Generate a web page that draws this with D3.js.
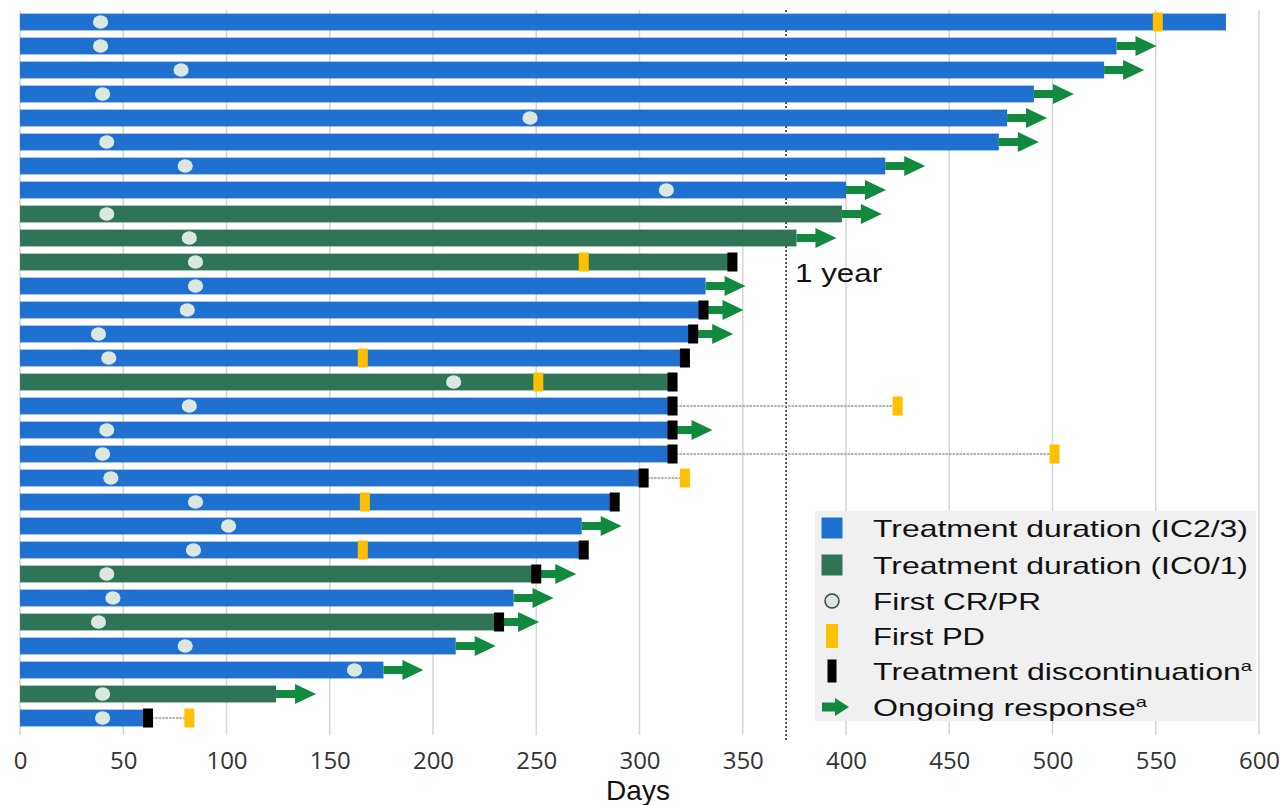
<!DOCTYPE html>
<html>
<head>
<meta charset="utf-8">
<script src="https://cdn.jsdelivr.net/npm/d3@7"></script>
<style>
  body { margin: 0; background: #ffffff; }
  svg { display: block; }
</style>
</head>
<body>
<svg id="chart" width="1283" height="805"></svg>
<script>
// ---- data: one entry per patient, top row first ----
const patients = d3.range(1, 31);
const cohort = [
  "IC2/3", "IC2/3", "IC2/3", "IC2/3", "IC2/3", "IC2/3", "IC2/3", "IC2/3", "IC0/1", "IC0/1",
  "IC0/1", "IC2/3", "IC2/3", "IC2/3", "IC2/3", "IC0/1", "IC2/3", "IC2/3", "IC2/3", "IC2/3",
  "IC2/3", "IC2/3", "IC2/3", "IC0/1", "IC2/3", "IC0/1", "IC2/3", "IC2/3", "IC0/1", "IC2/3"
];
const treatmentDays = [
  584, 531, 525, 491, 478, 474, 419, 400, 398, 376,
  345, 332, 331, 326, 322, 316, 316, 316, 316, 302,
  288, 272, 273, 250, 239, 232, 211, 176, 124, 62
];
const firstResponseDay = [
  39, 39, 78, 40, 247, 42, 80, 313, 42, 82,
  85, 85, 81, 38, 43, 210, 82, 42, 40, 44,
  85, 101, 84, 42, 45, 38, 80, 162, 40, 40
];
const firstPDDay = [
  551, null, null, null, null, null, null, null, null, null,
  273, null, null, null, 166, 251, 425, null, 501, 322,
  167, null, 166, null, null, null, null, null, null, 82
];
const discontinued = [
  false, false, false, false, false, false, false, false, false, false,
  true, false, true, true, true, true, true, true, true, true,
  true, false, true, true, false, true, false, false, false, true
];
const ongoingResponse = [
  false, true, true, true, true, true, true, true, true, true,
  false, true, true, true, false, false, false, true, false, false,
  false, true, false, true, true, true, true, true, true, false
];
const xTicks = d3.range(0, 601, 50);
const oneYearDay = 371;
const legendLabels = [
  "Treatment duration (IC2/3)",
  "Treatment duration (IC0/1)",
  "First CR/PR",
  "First PD",
  "Treatment discontinuation",
  "Ongoing response"
];

// ---- styling ----
const COLORS = {
  "IC2/3": "#1f70cf",
  "IC0/1": "#2f7456",
  response: "#dbe8e1",
  pd: "#ffc000",
  disc: "#000000",
  arrow: "#118a3e",
  grid: "#d6d6d6"
};

const rows = patients.map((p, i) => ({
  id: p,
  cohort: cohort[i],
  end: treatmentDays[i],
  cr: firstResponseDay[i],
  pd: firstPDDay[i],
  disc: discontinued[i],
  ongoing: ongoingResponse[i]
}));

const svg = d3.select("#chart");
const plotTop = 10, plotBottom = 730;

const x = d3.scaleLinear().domain([0, 600]).range([20, 1259]);
const y = d3.scaleBand()
  .domain(patients)
  .range([plotTop, plotBottom])
  .paddingInner(0.3)
  .paddingOuter(0.15);
const bw = y.bandwidth();
const cy = d => y(d.id) + bw / 2;

// vertical gridlines
svg.append("g").selectAll("line")
  .data(xTicks)
  .join("line")
  .attr("x1", d => x(d)).attr("x2", d => x(d))
  .attr("y1", plotTop).attr("y2", plotBottom + 5)
  .attr("stroke", COLORS.grid)
  .attr("stroke-width", 1.5);

// one-year reference line (sits behind the bars)
svg.append("line")
  .attr("x1", x(oneYearDay)).attr("x2", x(oneYearDay))
  .attr("y1", plotTop).attr("y2", plotBottom + 10)
  .attr("stroke", "#333")
  .attr("stroke-width", 1.6)
  .attr("stroke-dasharray", "2,2");

svg.append("text")
  .attr("x", x(oneYearDay) + 9)
  .attr("y", 282)
  .attr("font-family", "'Liberation Sans', Arial, sans-serif")
  .attr("font-size", 26)
  .attr("fill", "#111")
  .attr("textLength", 87)
  .attr("lengthAdjust", "spacingAndGlyphs")
  .text("1 year");

// treatment bars
svg.append("g").selectAll("rect")
  .data(rows)
  .join("rect")
  .attr("x", x(0))
  .attr("y", d => y(d.id))
  .attr("width", d => x(d.end) - x(0))
  .attr("height", bw)
  .attr("fill", d => COLORS[d.cohort]);

// follow-up connector from discontinuation to later progression
svg.append("g").selectAll("line")
  .data(rows.filter(d => d.pd != null && d.pd > d.end))
  .join("line")
  .attr("x1", d => x(d.end)).attr("x2", d => x(d.pd))
  .attr("y1", cy).attr("y2", cy)
  .attr("stroke", "#999")
  .attr("stroke-width", 1.3)
  .attr("stroke-dasharray", "2.5,1");

// ongoing response arrows
const arrowPath = (x0, yc, shaftLen, headEnd, sh, hh) =>
  `M${x0},${yc - sh}L${x0 + shaftLen},${yc - sh}L${x0 + shaftLen},${yc - hh}` +
  `L${x0 + headEnd},${yc}L${x0 + shaftLen},${yc + hh}L${x0 + shaftLen},${yc + sh}L${x0},${yc + sh}Z`;

svg.append("g").selectAll("path")
  .data(rows.filter(d => d.ongoing))
  .join("path")
  .attr("d", d => arrowPath(x(d.end), cy(d), 19, 40, 4, 10))
  .attr("fill", COLORS.arrow);

// first CR/PR
svg.append("g").selectAll("ellipse")
  .data(rows)
  .join("ellipse")
  .attr("cx", d => x(d.cr))
  .attr("cy", cy)
  .attr("rx", 7.6).attr("ry", 6.8)
  .attr("fill", COLORS.response);

// first PD
svg.append("g").selectAll("rect")
  .data(rows.filter(d => d.pd != null))
  .join("rect")
  .attr("x", d => x(d.pd) - 5)
  .attr("y", d => cy(d) - 9.5)
  .attr("width", 10)
  .attr("height", 19)
  .attr("fill", COLORS.pd);

// treatment discontinuation
svg.append("g").selectAll("rect")
  .data(rows.filter(d => d.disc))
  .join("rect")
  .attr("x", d => x(d.end) - 5)
  .attr("y", d => cy(d) - 9.5)
  .attr("width", 10)
  .attr("height", 19)
  .attr("fill", COLORS.disc);

// x axis labels
const axis = d3.axisBottom(x).tickValues(xTicks).tickSize(0).tickPadding(0);
const gAxis = svg.append("g").attr("transform", `translate(0,${752})`).call(axis);
gAxis.select(".domain").remove();
gAxis.selectAll("text")
  .attr("font-family", "'Open Sans', sans-serif")
  .attr("font-size", 24)
  .attr("fill", "#333")
  .attr("dy", "0.71em");

svg.append("text")
  .attr("x", 638).attr("y", 800)
  .attr("text-anchor", "middle")
  .attr("font-family", "'Liberation Sans', Arial, sans-serif")
  .attr("font-size", 28)
  .attr("fill", "#111")
  .text("Days");

// legend
const lg = svg.append("g");
lg.append("rect")
  .attr("x", 815).attr("y", 511)
  .attr("width", 441).attr("height", 210)
  .attr("fill", "#f0f0f0");

const legendY = [528, 565, 601, 636, 671, 707];
const legendWidths = [375, 375, 168, 112, 379, 274];
const sx = 832;

lg.append("rect").attr("x", sx - 10.5).attr("y", legendY[0] - 10.5).attr("width", 21).attr("height", 21).attr("fill", COLORS["IC2/3"]);
lg.append("rect").attr("x", sx - 10.5).attr("y", legendY[1] - 10.5).attr("width", 21).attr("height", 21).attr("fill", COLORS["IC0/1"]);
lg.append("circle").attr("cx", sx).attr("cy", legendY[2]).attr("r", 7)
  .attr("fill", COLORS.response).attr("stroke", "#444").attr("stroke-width", 1.5);
lg.append("rect").attr("x", sx - 6).attr("y", legendY[3] - 12).attr("width", 12).attr("height", 24).attr("fill", COLORS.pd);
lg.append("rect").attr("x", sx - 4.5).attr("y", legendY[4] - 11.5).attr("width", 9).attr("height", 23).attr("fill", COLORS.disc);
lg.append("path").attr("d", arrowPath(822, legendY[5], 13, 27, 4.5, 9)).attr("fill", COLORS.arrow);

legendLabels.forEach((label, i) => {
  const t = lg.append("text")
    .attr("x", 873)
    .attr("y", legendY[i] + 9)
    .attr("font-family", "'Liberation Sans', Arial, sans-serif")
    .attr("font-size", 24)
    .attr("fill", "#111")
    .attr("textLength", legendWidths[i])
    .attr("lengthAdjust", "spacingAndGlyphs");
  t.append("tspan").text(label);
  if (i >= 4) {
    t.append("tspan").attr("font-size", 15).attr("dy", -9).text("a");
  }
});
</script>
</body>
</html>
